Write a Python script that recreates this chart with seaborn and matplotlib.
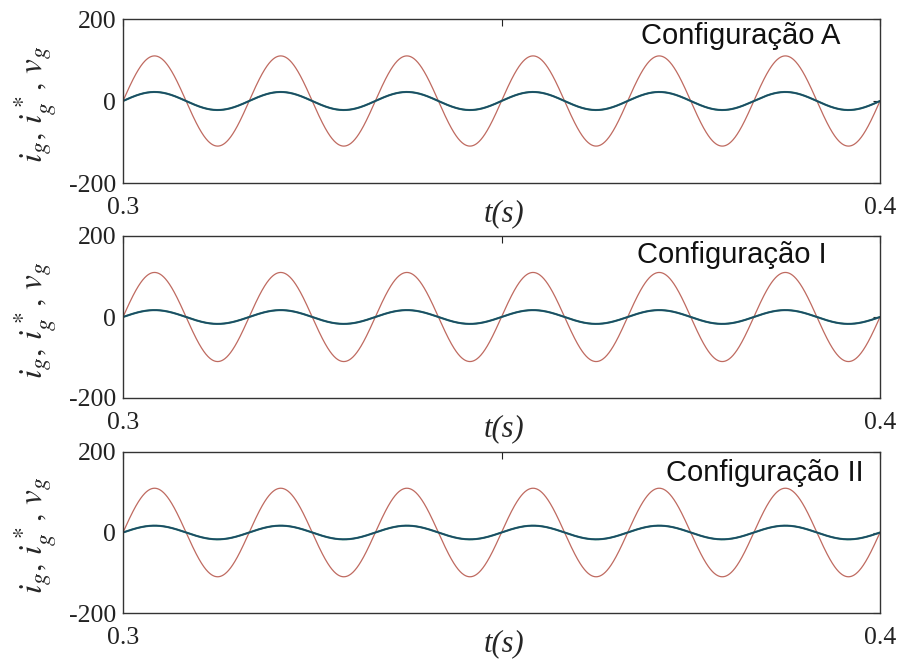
import numpy as np
import pandas as pd
import matplotlib
matplotlib.use("Agg")
import matplotlib.pyplot as plt
import seaborn as sns

# ---- data ----
config_labels = ["Configuração A", "Configuração I", "Configuração II"]
grid_voltage_peak = [110, 110, 110]        # v_g peak (red)
grid_current_peak = [22, 17, 17]           # i_g peak (blue)
reference_current_peak = [22, 17, 17]      # i*_g peak (green, under blue)
grid_frequency_hz = 60
t_limits = [0.3, 0.4]
x_ticks = [0.3, 0.35, 0.4]
x_tick_labels = ["0.3", "", "0.4"]
y_ticks = [-200, 0, 200]
y_tick_labels = ["-200", "0", "200"]

sns.set_theme(style="white")
plt.rcParams["font.family"] = ["Liberation Serif", "DejaVu Serif"]
plt.rcParams["mathtext.fontset"] = "stix"

fig = plt.figure(figsize=(9.04, 6.70), dpi=100)
W, H = 904, 670
left, right = 123, 880
boxes = [(19, 183), (236, 398), (452, 613)]
title_pos = [(0.947, 0.895), (0.93, 0.883), (0.979, 0.87)]

t = np.linspace(t_limits[0], t_limits[1], 3000)
for k, (top, bot) in enumerate(boxes):
    ax = fig.add_axes([left / W, 1 - bot / H, (right - left) / W, (bot - top) / H])
    phase = 2 * np.pi * grid_frequency_hz * (t - t_limits[0])
    df = pd.DataFrame({
        "t": t,
        "vg": grid_voltage_peak[k] * np.sin(phase),
        "ig_ref": reference_current_peak[k] * np.sin(phase),
        "ig": grid_current_peak[k] * np.sin(phase),
    })
    sns.lineplot(data=df, x="t", y="vg", ax=ax, color="#bf6a60", lw=0.9,
                 estimator=None, sort=False)
    sns.lineplot(data=df, x="t", y="ig_ref", ax=ax, color="#2a7a6a", lw=1.5,
                 estimator=None, sort=False)
    sns.lineplot(data=df, x="t", y="ig", ax=ax, color="#1b4a66", lw=1.1,
                 estimator=None, sort=False)
    ax.set_xlim(*t_limits)
    ax.set_ylim(-200, 200)
    ax.set_xticks(x_ticks)
    ax.set_xticklabels(x_tick_labels)
    ax.set_yticks(y_ticks)
    ax.set_yticklabels(y_tick_labels)
    ax.set_xlabel("")
    ax.set_ylabel("")
    ax.tick_params(axis="both", direction="in", length=5, width=0.8,
                   top=True, right=True, labelsize=18.5, colors="#222222")
    ax.tick_params(axis="x", pad=10)
    ax.tick_params(axis="y", pad=5)
    for sp in ax.spines.values():
        sp.set_color("#333333")
        sp.set_linewidth(1.0)
        sp.set_visible(True)
    ax.text(0.503, -0.19, "t(s)", transform=ax.transAxes, ha="center",
            va="center", fontsize=22, fontstyle="italic")
    ax.text(-0.116, 0.48, r"$i_g,\, i^*_g,\, v_g$", transform=ax.transAxes,
            ha="center", va="center", rotation=90, fontsize=24)
    ax.text(title_pos[k][0], title_pos[k][1], config_labels[k],
            transform=ax.transAxes, ha="right", va="center", fontsize=21,
            family=["Liberation Sans", "DejaVu Sans"], color="#111111")

fig.savefig("out.png", dpi=100)
